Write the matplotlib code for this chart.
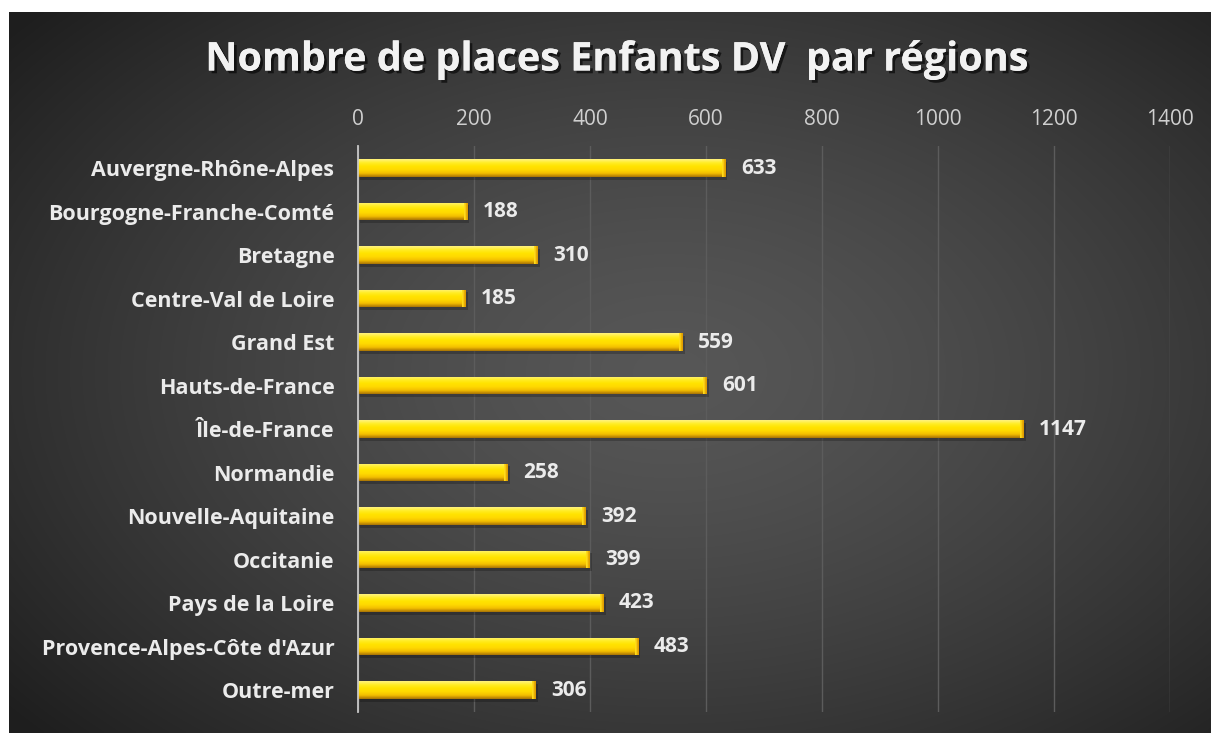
import matplotlib.pyplot as plt
import matplotlib.patheffects as pe
import numpy as np

regions = ["Auvergne-Rhône-Alpes", "Bourgogne-Franche-Comté", "Bretagne",
           "Centre-Val de Loire", "Grand Est", "Hauts-de-France", "Île-de-France",
           "Normandie", "Nouvelle-Aquitaine", "Occitanie", "Pays de la Loire",
           "Provence-Alpes-Côte d'Azur", "Outre-mer"]
places = [633, 188, 310, 185, 559, 601, 1147, 258, 392, 399, 423, 483, 306]
ticks = [0, 200, 400, 600, 800, 1000, 1200, 1400]
title = "Nombre de places Enfants DV  par régions"

plt.rcParams['font.family'] = ['Open Sans', 'DejaVu Sans']

W, H = 1211, 733
fig = plt.figure(figsize=(W / 100, H / 100), dpi=100)
fig.patch.set_facecolor('white')

# radial gradient background
bg = fig.add_axes([9 / W, 0, 1 - 9 / W, 1 - 12 / H])
bg.set_axis_off()
yy, xx = np.mgrid[0:1:300j, 0:1:500j]
r = np.sqrt(((xx - 0.55) / 0.75) ** 2 + ((yy - 0.5) / 0.8) ** 2)
g = np.clip(0.34 - 0.24 * r ** 1.4, 0.12, 0.35)
bg.imshow(np.dstack([g, g, g]), aspect='auto', extent=(0, 1, 0, 1), interpolation='bilinear')
bg.set_xlim(0, 1)
bg.set_ylim(0, 1)

ax = fig.add_axes([358 / W, 1 - 711.75 / H, (1170 - 358) / W, (711.75 - 146.25) / H])
ax.set_facecolor('none')
ax.set_xlim(0, 1400)
ax.set_ylim(12.5, -0.5)

y = np.arange(len(regions))
h = 0.41

# soft shadow
ax.barh(y + 0.06, places, height=h, left=4, color='black', alpha=0.22, zorder=2)
bars = ax.barh(y, places, height=h, color='#f5c800', zorder=3)

# bevel gradient inside each bar
grad = np.array([
    [1.00, 0.95, 0.50],
    [1.00, 0.93, 0.15],
    [1.00, 0.89, 0.00],
    [1.00, 0.85, 0.00],
    [0.95, 0.74, 0.00],
    [0.66, 0.45, 0.02],
])
ys = np.linspace(0, 1, 60)
col = np.stack([np.interp(ys, np.linspace(0, 1, len(grad)), grad[:, k]) for k in range(3)], axis=1)
img = col[:, None, :]
for b, v, yi in zip(bars, places, y):
    im = ax.imshow(img, aspect='auto', extent=(0, v, yi + h / 2, yi - h / 2),
                   interpolation='bilinear', zorder=4)
    im.set_clip_path(b)
    # darker right end cap
    cap = np.array([[[1.0, 0.86, 0.1], [0.88, 0.62, 0.0]]])
    im2 = ax.imshow(cap, aspect='auto', extent=(v - 6, v, yi + h / 2, yi - h / 2),
                    interpolation='bilinear', zorder=5)
    im2.set_clip_path(b)
    ax.text(v + 27, yi, str(v), va='center', ha='left', color='#ebebeb',
            fontsize=15, fontweight='bold', zorder=6)

ax.xaxis.tick_top()
ax.set_xticks(ticks)
ax.set_xticklabels([str(t) for t in ticks], color='#cfcfcf', fontsize=15)
ax.tick_params(axis='x', length=0, pad=12)
ax.grid(axis='x', color='#5c5c5c', lw=1, zorder=1)
ax.set_axisbelow(True)

ax.set_yticks(y)
ax.set_yticklabels(regions, color='#ebebeb', fontsize=15.5, fontweight='bold')
ax.tick_params(axis='y', length=0, pad=17)

for s in ['top', 'right', 'bottom']:
    ax.spines[s].set_visible(False)
ax.spines['left'].set_color('#c8c8c8')
ax.spines['left'].set_linewidth(1.3)
ax.spines['left'].set_zorder(7)

fig.text(617 / W, 1 - 60 / H, title, ha='center', va='center', color='#f2f2f2',
         fontsize=28.5, fontweight='bold',
         path_effects=[pe.withSimplePatchShadow(offset=(2, -2), shadow_rgbFace='black', alpha=0.6),
                       pe.Normal()])

fig.savefig('out.png', dpi=100)
